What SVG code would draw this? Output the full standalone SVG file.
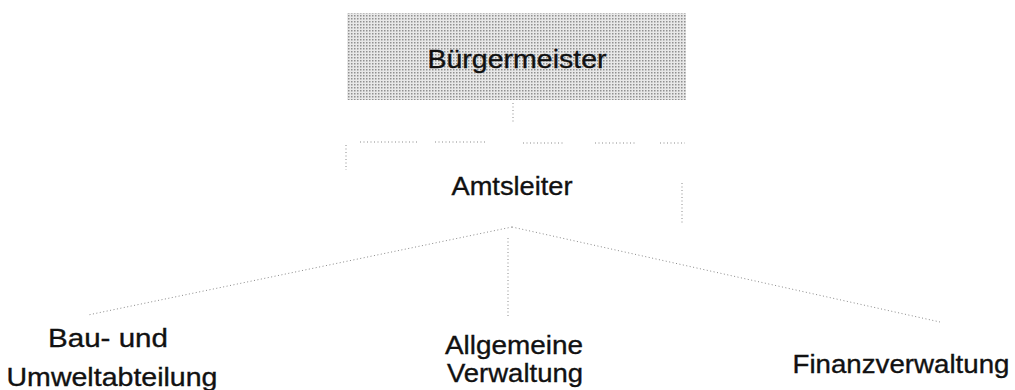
<svg xmlns="http://www.w3.org/2000/svg" width="1015" height="390" viewBox="0 0 1015 390">
<defs>
<pattern id="halftone" width="3" height="3" patternUnits="userSpaceOnUse">
<rect width="3" height="3" fill="#e8e8e8"/>
<rect x="0" y="0" width="1.5" height="1.5" fill="#909090"/>
</pattern>
</defs>
<style>
.lbl{font-family:"Liberation Sans",Arial,sans-serif;font-size:26px;fill:#111;stroke:#111;stroke-width:0.35;text-anchor:middle}
.con{stroke:#8a8a8a;stroke-width:1;stroke-dasharray:1 2.5;fill:none}
</style>
<rect width="1015" height="390" fill="#fff"/>
<g id="connectors">
<line class="con" x1="513" y1="103" x2="513" y2="122"/>
<line class="con" x1="360" y1="142" x2="418" y2="142"/>
<line class="con" x1="435" y1="142" x2="485" y2="142"/>
<line class="con" x1="523" y1="143" x2="563" y2="143"/>
<line class="con" x1="595" y1="143" x2="635" y2="143"/>
<line class="con" x1="660" y1="143" x2="685" y2="143"/>
<line class="con" x1="346" y1="145" x2="346" y2="170"/>
<line class="con" x1="682" y1="183" x2="682" y2="225"/>
<line class="con" x1="512" y1="227" x2="88" y2="315"/>
<line class="con" x1="512" y1="227" x2="940" y2="322"/>
<line class="con" x1="508" y1="238" x2="508" y2="318"/>
</g>
<g id="buergermeister">
<rect x="347" y="13" width="339" height="87" fill="url(#halftone)"/>
<text class="lbl" x="517" y="68" font-size="28" textLength="179" lengthAdjust="spacingAndGlyphs">Bürgermeister</text>
</g>
<g id="amtsleiter">
<text class="lbl" x="512" y="195" textLength="121" lengthAdjust="spacingAndGlyphs">Amtsleiter</text>
</g>
<g id="bau">
<text class="lbl" x="108" y="347" textLength="120" lengthAdjust="spacingAndGlyphs">Bau- und</text>
<text class="lbl" x="112" y="386" textLength="211" lengthAdjust="spacingAndGlyphs">Umweltabteilung</text>
</g>
<g id="allgemeine">
<text class="lbl" x="514" y="354" textLength="138" lengthAdjust="spacingAndGlyphs">Allgemeine</text>
<text class="lbl" x="515" y="382" textLength="136" lengthAdjust="spacingAndGlyphs">Verwaltung</text>
</g>
<g id="finanz">
<text class="lbl" x="901" y="373" textLength="217" lengthAdjust="spacingAndGlyphs">Finanzverwaltung</text>
</g>
</svg>
